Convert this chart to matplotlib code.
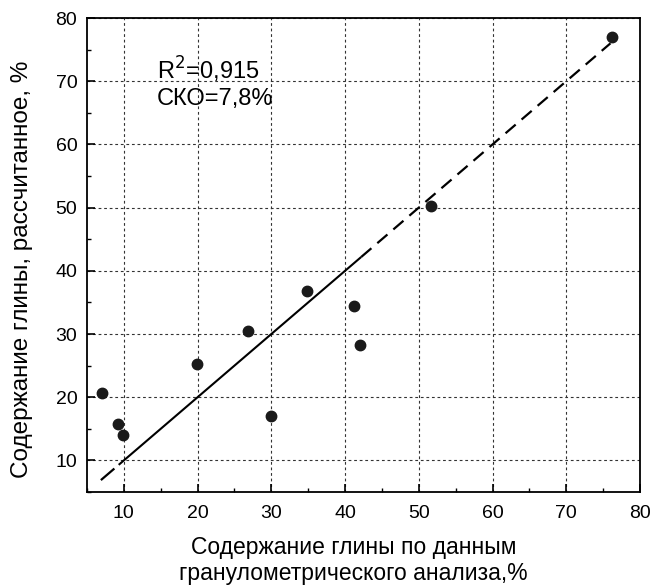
import matplotlib
matplotlib.use("Agg")
import matplotlib.pyplot as plt
from matplotlib.ticker import MultipleLocator

plt.rcParams['font.family'] = ['Liberation Sans', 'DejaVu Sans']

# measured (granulometric) vs calculated clay content, %
x_meas = [7.1, 9.2, 9.9, 19.9, 26.9, 29.9, 34.9, 41.2, 42.0, 51.6, 76.2]
y_calc = [20.7, 15.7, 14.0, 25.3, 30.4, 17.0, 36.8, 34.4, 28.3, 50.3, 77.0]

# regression line segments
fit_x_solid = [9.3, 42.2]
fit_x_dash_hi = [42.2, 76.0]
fit_x_dash_lo = [7.0, 8.6]

xticks = [10, 20, 30, 40, 50, 60, 70, 80]
yticks = [10, 20, 30, 40, 50, 60, 70, 80]

fig = plt.figure(figsize=(6.56, 5.87), dpi=100)
ax = fig.add_axes([0.1326, 0.1618, 0.8430, 0.8075])

ax.set_xlim(5, 80)
ax.set_ylim(5, 80)

ax.plot(fit_x_solid, fit_x_solid, color='black', lw=1.5, solid_capstyle='butt', zorder=3)
ax.plot(fit_x_dash_hi, fit_x_dash_hi, color='black', lw=1.6, dashes=(6, 3.5), zorder=3)
ax.plot(fit_x_dash_lo, fit_x_dash_lo, color='black', lw=1.6, zorder=3)

ax.plot(x_meas, y_calc, 'o', color='#1a1a1a', markersize=7.5, zorder=4)

ax.set_xticks(xticks)
ax.set_yticks(yticks)
ax.xaxis.set_minor_locator(MultipleLocator(5))
ax.yaxis.set_minor_locator(MultipleLocator(5))
ax.tick_params(which='major', direction='in', length=6, width=1.2, labelsize=14)
ax.tick_params(axis='x', which='major', pad=9)
ax.tick_params(axis='y', which='major', pad=7)
ax.tick_params(which='minor', direction='in', length=3, width=1.0)
ax.tick_params(top=False, right=False, which='both')

for s in ax.spines.values():
    s.set_linewidth(1.3)

ax.grid(True, which='major', color='#333333', linestyle=(0, (2.5, 2.5)), linewidth=0.8)
ax.set_axisbelow(True)

ax.text(14.5, 71.8, 'R$^2$=0,915', fontsize=17, va='center', ha='left')
ax.text(14.5, 67.2, 'СКО=7,8%', fontsize=17, va='center', ha='left')

ax.set_xlabel('Содержание глины по данным\nгранулометрического анализа,%', fontsize=16.5, linespacing=1.2)
ax.xaxis.set_label_coords(0.482, -0.092)
ax.set_ylabel('Содержание глины, рассчитанное, %', fontsize=17.5)
ax.yaxis.set_label_coords(-0.097, 0.47)

fig.savefig('out.png', dpi=100)
